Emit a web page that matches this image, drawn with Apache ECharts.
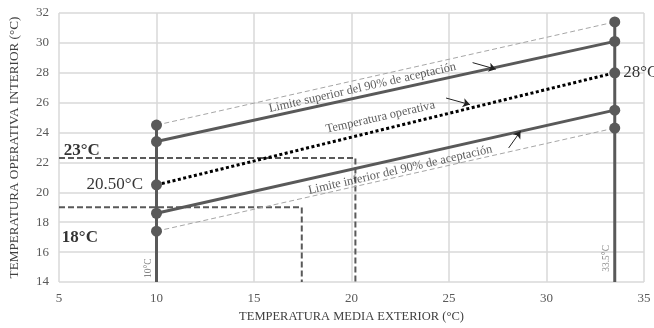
<!DOCTYPE html>
<html>
<head>
<meta charset="utf-8">
<script src="https://cdn.jsdelivr.net/npm/echarts@6/dist/echarts.min.js"></script>
<style>
  html, body { margin: 0; padding: 0; background: #fff; }
  #chart { width: 654px; height: 328px; }
</style>
</head>
<body>
<div id="chart"></div>
<script>
// Outdoor mean temperature at the ends of the applicability range (°C)
const outdoorRange = [10, 33.5];
// Indoor operative temperature at those two ends (°C)
const upperOuter = [24.5, 31.4];   // thin dashed envelope, upper
const upper90 = [23.4, 30.1];      // upper 90 % acceptability limit
const operative = [20.5, 28];      // operative (comfort) temperature
const lower90 = [18.6, 25.5];      // lower 90 % acceptability limit
const lowerOuter = [17.4, 24.3];   // thin dashed envelope, lower
const axisFloor = 14;
const axisLeft = 5;
// Dashed reference boxes: [outdoor temperature, indoor temperature]
const boxHigh = [20.2, 22.3];
const boxLow = [17.45, 19];
// Axis ticks
const xTicks = [5, 10, 15, 20, 25, 30, 35];
const yTicks = [14, 16, 18, 20, 22, 24, 26, 28, 30, 32];
// Leader arrows pointing at the curves: [[x0, y0], [x1, y1]]
const arrows = [
  [[26.21, 28.68], [27.40, 28.24]],
  [[24.85, 26.31], [26.07, 25.87]],
  [[28.06, 22.97], [28.67, 24.09]]
];
// Curve captions
const captions = ['Limite superior del 90% de aceptación', 'Temperatura operativa', 'Limite inferior del 90% de aceptación'];
const captionAt = [[20.56, 27.0], [21.48, 25.02], [22.5, 21.5]];

const SERIF = '"Liberation Serif", "DejaVu Serif", serif';
const DARK = '#595959';

const pair = (ys) => outdoorRange.map((x, i) => [x, ys[i]]);

const chart = echarts.init(document.getElementById('chart'), null, { renderer: 'canvas' });

const markerStyle = { color: DARK };
const sloped = (name, ys, lineStyle) => ({
  name, type: 'line', data: pair(ys), symbol: 'circle', symbolSize: 11,
  showSymbol: true, itemStyle: markerStyle, lineStyle, z: 4, silent: true, animation: false
});

const textPoint = (value, text, label) => ({
  value, label: Object.assign({ show: true, formatter: text, fontFamily: SERIF, position: 'inside' }, label)
});

const slopeDeg = 12.8;

const option = {
  animation: false,
  grid: { left: 57, right: 10, top: 13, bottom: 42 },
  xAxis: {
    type: 'value', min: xTicks[0], max: xTicks[xTicks.length - 1], interval: xTicks[1] - xTicks[0],
    name: 'TEMPERATURA MEDIA EXTERIOR (°C)', nameLocation: 'middle', nameGap: 28,
    nameTextStyle: { fontFamily: SERIF, fontSize: 12.5, color: '#404040' },
    axisLine: { show: false }, axisTick: { show: false },
    axisLabel: { fontFamily: SERIF, fontSize: 13, color: '#595959', margin: 10 },
    splitLine: { show: true, lineStyle: { color: '#d9d9d9', width: 1.5 } }
  },
  yAxis: {
    type: 'value', min: yTicks[0], max: yTicks[yTicks.length - 1], interval: yTicks[1] - yTicks[0],
    name: 'TEMPERATURA OPERATIVA INTERIOR (°C)', nameLocation: 'middle', nameGap: 38,
    nameTextStyle: { fontFamily: SERIF, fontSize: 13.2, color: '#404040' },
    axisLine: { show: false }, axisTick: { show: false },
    axisLabel: { fontFamily: SERIF, fontSize: 13, color: '#595959', margin: 10 },
    splitLine: { show: true, lineStyle: { color: '#d9d9d9', width: 1.5 } }
  },
  series: [
    // dashed reference boxes
    {
      type: 'line', data: [[axisLeft, boxHigh[1]], [boxHigh[0], boxHigh[1]], [boxHigh[0], axisFloor]],
      showSymbol: false, symbol: 'none', lineStyle: { color: DARK, width: 2, type: [6, 3] }, z: 2, silent: true
    },
    {
      type: 'line', data: [[axisLeft, boxLow[1]], [boxLow[0], boxLow[1]], [boxLow[0], axisFloor]],
      showSymbol: false, symbol: 'none', lineStyle: { color: DARK, width: 2, type: [6, 3] }, z: 2, silent: true
    },
    // vertical limits of the applicability range
    {
      type: 'line', data: [[outdoorRange[0], axisFloor], [outdoorRange[0], upperOuter[0]]],
      symbol: 'none', lineStyle: { color: DARK, width: 3 }, z: 3, silent: true
    },
    {
      type: 'line', data: [[outdoorRange[1], axisFloor], [outdoorRange[1], upperOuter[1]]],
      symbol: 'none', lineStyle: { color: DARK, width: 3 }, z: 3, silent: true
    },
    sloped('upperOuter', upperOuter, { color: '#a6a6a6', width: 1, type: [5, 3] }),
    sloped('lowerOuter', lowerOuter, { color: '#a6a6a6', width: 1, type: [5, 3] }),
    sloped('upper90', upper90, { color: DARK, width: 3 }),
    sloped('lower90', lower90, { color: DARK, width: 3 }),
    sloped('operative', operative, { color: '#000', width: 3, type: [3, 2.5], cap: 'butt' }),
    // leader arrows
    {
      type: 'lines', coordinateSystem: 'cartesian2d', data: arrows.map(c => ({ coords: c })),
      symbol: ['none', 'arrow'], symbolSize: 7, lineStyle: { color: '#222', width: 1, opacity: 1 }, z: 5, silent: true
    },
    // text annotations
    {
      type: 'scatter', symbol: 'circle', symbolSize: 1, itemStyle: { color: 'rgba(0,0,0,0)' }, z: 6, silent: true,
      data: [
        ...captions.map((t, i) => textPoint(captionAt[i], t, { rotate: slopeDeg, fontSize: 12.4, color: '#333' })),
        textPoint([6.17, 22.77], '23°C', { fontSize: 17, fontWeight: 'bold', color: '#000' }),
        textPoint([6.07, 16.97], '18°C', { fontSize: 17, fontWeight: 'bold', color: '#000' }),
        textPoint([outdoorRange[0], operative[0]], '20.50°C', { fontSize: 17, color: '#000', position: 'left', distance: 13 }),
        textPoint([outdoorRange[1], operative[1]], '28°C', { fontSize: 17, color: '#000', position: 'right', distance: 8 }),
        textPoint([9.6, 14.92], '10°C', { rotate: 90, fontSize: 9.5, color: '#666' }),
        textPoint([33.09, 15.58], '33.5°C', { rotate: 90, fontSize: 9.5, color: '#666' })
      ]
    }
  ]
};

chart.setOption(option);
</script>
</body>
</html>
